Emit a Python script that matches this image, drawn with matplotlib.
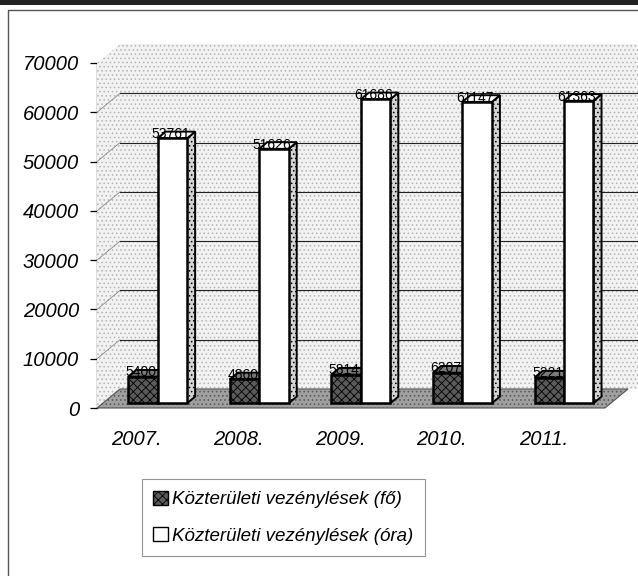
import matplotlib
matplotlib.use("Agg")
import matplotlib.pyplot as plt
from matplotlib.patches import Polygon, Patch, Rectangle
from matplotlib.lines import Line2D
from matplotlib.transforms import IdentityTransform, ScaledTranslation

plt.rcParams['font.family'] = ['Liberation Sans', 'DejaVu Sans']
plt.rcParams['hatch.linewidth'] = 0.6

years = ["2007.", "2008.", "2009.", "2010.", "2011."]
fo = [5400, 4860, 5814, 6207, 5221]          # Közterületi vezénylések (fő)
ora = [53761, 51626, 61686, 61147, 61363]    # Közterületi vezénylések (óra)
yticks = [0, 10000, 20000, 30000, 40000, 50000, 60000, 70000]

W, H = 638, 576
fig = plt.figure(figsize=(W / 100, H / 100), dpi=100)
ax = fig.add_axes([97 / W, (H - 408) / H, 508 / W, 345 / H])
ax.set_xlim(-0.5, 4.5)
ax.set_ylim(0, 70000)
ax.patch.set_visible(False)
for s in ["top", "right", "bottom"]:
    ax.spines[s].set_visible(False)
ax.spines["left"].set_linewidth(0.9)

DX, DY = 23, 19  # depth offset of the back wall in pixels


def P(x, y, z):
    px, py = ax.transData.transform((x, y))
    return (px + z * DX, py + z * DY)


def poly(pts, **kw):
    p = Polygon(pts, closed=True, transform=IdentityTransform(), clip_on=False, **kw)
    fig.patches.append(p)
    return p


xr = 4.7
# back wall, left wall, floor
poly([P(-0.5, 0, 1), P(xr, 0, 1), P(xr, 70000, 1), P(-0.5, 70000, 1)],
     facecolor="#f2f2f2", edgecolor="#b4b4b4", hatch="....", lw=0, zorder=1)
poly([P(-0.5, 0, 0), P(-0.5, 0, 1), P(-0.5, 70000, 1), P(-0.5, 70000, 0)],
     facecolor="#f2f2f2", edgecolor="#b4b4b4", hatch="....", lw=0, zorder=1)
for v in yticks[1:-1]:
    a, b, c = P(-0.5, v, 0), P(-0.5, v, 1), P(xr, v, 1)
    fig.lines.append(Line2D([a[0], b[0]], [a[1], b[1]], color="#888888",
                            lw=0.6, transform=IdentityTransform(), zorder=2))
    fig.lines.append(Line2D([b[0], c[0]], [b[1], c[1]], color="#222222",
                            lw=0.8, transform=IdentityTransform(), zorder=2))
poly([P(-0.5, 0, 0), P(4.5, 0, 0), P(4.5, 0, 1), P(-0.5, 0, 1)],
     facecolor="#a0a0a0", edgecolor="#555555", hatch="....", lw=0.8, zorder=2)


def box(x0, x1, v, front, top, side, hatch_f, hatch_s, z0=0.25, z1=0.6):
    poly([P(x1, 0, z0), P(x1, 0, z1), P(x1, v, z1), P(x1, v, z0)],
         facecolor=side, edgecolor="black", lw=1.4, hatch=hatch_s, zorder=3)
    poly([P(x0, v, z0), P(x1, v, z0), P(x1, v, z1), P(x0, v, z1)],
         facecolor=top, edgecolor="black", lw=1.4, zorder=3)
    poly([P(x0, 0, z0), P(x1, 0, z0), P(x1, v, z0), P(x0, v, z0)],
         facecolor=front, edgecolor="black", lw=1.8, hatch=hatch_f, zorder=3)


for i in range(len(years)):
    box(i - 0.25, i + 0.04, fo[i], "#5a5a5a", "#7a7a7a", "#4a4a4a", "xxxx", None)
    box(i + 0.04, i + 0.33, ora[i], "white", "white", "#d4d4d4", None, "....")
    for x0, x1, v in [(i - 0.25, i + 0.04, fo[i]), (i + 0.04, i + 0.33, ora[i])]:
        px, py = P((x0 + x1) / 2, v, 0)
        fig.text((px + 4) / W, (py + 9) / H, str(v), ha="center", va="center",
                 fontsize=10, zorder=5)

# axes ticks
ax.set_yticks(yticks)
ax.set_yticklabels([str(v) for v in yticks], fontsize=14.5, fontstyle="italic")
ax.tick_params(axis="y", direction="out", length=5, width=0.9, pad=8)
ax.set_xticks(range(len(years)))
ax.set_xticklabels(years, fontsize=14.5, fontstyle="italic")
ax.tick_params(axis="x", length=0, pad=16)
for lab in ax.get_xticklabels():
    lab.set_transform(lab.get_transform() + ScaledTranslation(-0.11, 0, fig.dpi_scale_trans))

# legend
handles = [Patch(facecolor="#5a5a5a", edgecolor="black", hatch="xxxx", lw=1.0,
                 label="Közterületi vezénylések (fő)"),
           Patch(facecolor="white", edgecolor="black", lw=1.0,
                 label="Közterületi vezénylések (óra)")]
leg = fig.legend(handles=handles, loc="lower left", bbox_to_anchor=(142 / W, 20 / H),
                 borderaxespad=0, frameon=True, fancybox=False, edgecolor="#777777",
                 prop={"size": 13.5, "style": "italic"}, handlelength=0.8,
                 handleheight=0.8, handletextpad=0.2, labelspacing=1.0,
                 borderpad=0.6)
leg.get_frame().set_linewidth(0.8)

# scan border
fig.patches.append(Rectangle((0, 1 - 5 / H), 1, 5 / H, transform=fig.transFigure,
                             facecolor="#222222", lw=0))
fig.lines.append(Line2D([8 / W, 8 / W, 1], [0, 1 - 10 / H, 1 - 10 / H],
                        transform=fig.transFigure, color="#555555", lw=1.0))

fig.savefig("out.png", dpi=100)
